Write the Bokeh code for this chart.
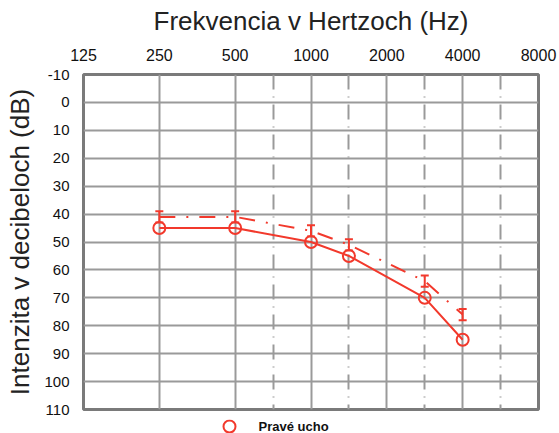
import math
from bokeh.plotting import figure
from bokeh.layouts import column
from bokeh.core.properties import value
from bokeh.models import (Range1d, FixedTicker, LinearAxis, Grid, ColumnDataSource)
from bokeh.embed import file_html
from bokeh.resources import INLINE

# ---- data ----
octave_ticks = [125, 250, 500, 1000, 2000, 4000, 8000]
octave_labels = ["125", "250", "500", "1000", "2000", "4000", "8000"]
half_octave_lines = [750, 1500, 3000, 6000]
db_ticks = [-10, 0, 10, 20, 30, 40, 50, 60, 70, 80, 90, 100, 110]
db_labels = ["-10", "0", "10", "20", "30", "40", "50", "60", "70", "80", "90", "100", "110"]

freqs = [250, 500, 1000, 1500, 3000, 4000]
right_ear = [45, 45, 50, 55, 70, 85]
dashed_series = [41, 41, 46, 51, 64, 76]
dashed_err = [2, 2, 2, 2, 2, 2]
legend_label = "Pravé ucho"

RED = "#f2392c"
GRID = "#9a9a9a"
FONT = "Liberation Sans"


def pos(f):
    # audiogram position: octaves from 125 Hz, inter-octave lines halfway
    return round(2 * math.log2(f / 125.0)) / 2.0


xs = [pos(f) for f in freqs]
tick_pos = [pos(f) for f in octave_ticks]
half_pos = [pos(f) for f in half_octave_lines]

p = figure(width=559, height=419, output_backend="svg", toolbar_location=None,
           x_range=Range1d(tick_pos[0], tick_pos[-1]),
           y_range=Range1d(db_ticks[-1], db_ticks[0]),
           x_axis_location=None, y_axis_location=None,
           min_border_left=83, min_border_right=21, min_border_top=74,
           min_border_bottom=10)
p.background_fill_color = "white"
p.border_fill_color = "white"
p.outline_line_color = "#7a7a7a"
p.outline_line_width = 3
p.xgrid.visible = False
p.ygrid.visible = False

# axes
top = LinearAxis(ticker=FixedTicker(ticks=tick_pos),
                 major_label_overrides={tp: lab for tp, lab in zip(tick_pos, octave_labels)},
                 axis_label="Frekvencia v Hertzoch (Hz)")
left = LinearAxis(ticker=FixedTicker(ticks=db_ticks),
                  major_label_overrides={t: lab for t, lab in zip(db_ticks, db_labels)},
                  axis_label="Intenzita v decibeloch (dB)")
for ax in (top, left):
    ax.axis_line_color = None
    ax.major_tick_line_color = None
    ax.minor_tick_line_color = None
    ax.major_label_text_font = FONT
    ax.major_label_text_color = "#111111"
    ax.axis_label_text_font = FONT
    ax.axis_label_text_font_size = "26px"
    ax.axis_label_text_font_style = "normal"
    ax.axis_label_text_color = "#222222"
top.major_label_text_font_size = "16px"
left.major_label_text_font_size = "15px"
top.major_label_standoff = 8
top.axis_label_standoff = 10
left.major_label_standoff = 8
left.axis_label_standoff = 6
p.add_layout(top, "above")
p.add_layout(left, "left")

# grids
g_oct = Grid(dimension=0, ticker=FixedTicker(ticks=tick_pos[1:-1]),
             grid_line_color=GRID, grid_line_width=2)
g_half = Grid(dimension=0, ticker=FixedTicker(ticks=half_pos),
              grid_line_color=GRID, grid_line_width=2, grid_line_dash="15 7 1 7")
g_db = Grid(dimension=1, ticker=FixedTicker(ticks=db_ticks[1:-1]),
            grid_line_color=GRID, grid_line_width=2)
for g in (g_oct, g_half, g_db):
    p.add_layout(g)

# dashed series with error bars
src2 = ColumnDataSource(dict(x=xs, y=dashed_series,
                             lo=[v - e for v, e in zip(dashed_series, dashed_err)],
                             hi=[v + e for v, e in zip(dashed_series, dashed_err)]))
p.line("x", "y", source=src2, line_color=RED, line_width=2, line_dash="16 11 2 11")
p.segment(x0="x", y0="lo", x1="x", y1="hi", source=src2, line_color=RED, line_width=2)
p.scatter("x", "lo", source=src2, marker="dash", size=8, line_color=RED, line_width=2)
p.scatter("x", "hi", source=src2, marker="dash", size=8, line_color=RED, line_width=2)

# right ear
src1 = ColumnDataSource(dict(x=xs, y=right_ear))
p.line("x", "y", source=src1, line_color=RED, line_width=2)
p.scatter("x", "y", source=src1, marker="circle", size=12, line_color=RED,
          line_width=2, fill_color=None)

# legend strip below the chart; its frame is aligned with the main frame
# (page pixels 83..538), so the range is expressed in page pixels
lf = figure(width=559, height=14, output_backend="svg", toolbar_location=None,
            x_range=Range1d(83, 538), y_range=Range1d(0, 14),
            x_axis_location=None, y_axis_location=None,
            min_border_left=83, min_border_right=21, min_border_top=0, min_border_bottom=0)
lf.outline_line_color = None
lf.background_fill_color = "white"
lf.border_fill_color = "white"
lf.xgrid.visible = False
lf.ygrid.visible = False
lf.scatter(x=[229], y=[7], marker="circle", size=12, line_color=RED, line_width=2,
           fill_color=None)
lf.text(x=[258], y=[7], text=[legend_label], text_font=value(FONT),
        text_font_size="13px", text_font_style="bold", text_color="#111111",
        text_baseline="middle", text_align="left")

open("out.html", "w").write(file_html(column(p, lf, spacing=0), INLINE))
